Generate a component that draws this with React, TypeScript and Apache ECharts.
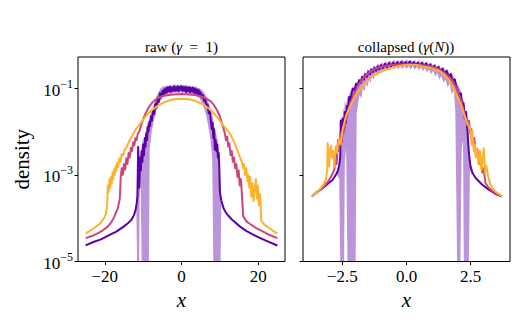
import React, { useEffect, useRef } from "react";
import * as echarts from "echarts";

// Values are [x, log10(density)].
const rawPurple: [number, number][] = [
  [-25, -4.63], [-23, -4.55], [-21, -4.49], [-19, -4.4], [-17, -4.31], [-15, -4.19], [-14, -4.12], [-13, -4.03],
  [-12.4, -3.93], [-12, -3.82], [-11.7, -3.66], [-11.5, -3.5], [-11.3, -2.36], [-11.0, -3.3], [-10.8, -2.6],
  [-10.6, -2.9], [-10.4, -2.45], [-10.2, -2.7], [-10.0, -2.3], [-9.8, -2.55], [-9.6, -2.15], [-9.4, -2.35],
  [-9.2, -2.05], [-9.0, -2.2], [-8.8, -1.9], [-8.6, -2.0], [-8.4, -1.78], [-8.2, -1.88], [-8.0, -1.65],
  [-7.7, -1.75], [-7.4, -1.5], [-7.1, -1.6], [-6.8, -1.36], [-6.5, -1.45], [-6.2, -1.22], [-5.9, -1.32],
  [-5.6, -1.12], [-5.3, -1.22], [-5.0, -1.07], [-4.75, -1.15], [-4.5, -1.03], [-4.25, -1.12], [-4.0, -1.0],
  [-3.75, -1.1], [-3.5, -0.98], [-3.25, -1.08], [-3.0, -0.97], [-2.75, -1.09], [-2.5, -0.99], [-2.25, -1.06],
  [-2.0, -0.96], [-1.75, -1.07], [-1.5, -0.98], [-1.25, -1.05], [-1.0, -0.96], [-0.75, -1.08], [-0.5, -0.97],
  [-0.25, -1.04], [0, -0.96], [0.25, -1.07], [0.5, -0.98], [0.75, -1.06], [1.0, -0.97], [1.25, -1.09],
  [1.5, -0.99], [1.75, -1.07], [2.0, -0.98], [2.25, -1.1], [2.5, -1.0], [2.75, -1.08], [3.0, -0.99],
  [3.25, -1.11], [3.5, -1.01], [3.75, -1.12], [4.0, -1.03], [4.25, -1.14], [4.5, -1.05], [4.75, -1.16],
  [5.0, -1.1], [5.3, -1.22], [5.6, -1.16], [5.9, -1.3], [6.2, -1.25], [6.5, -1.42], [6.8, -1.38], [7.1, -1.58],
  [7.4, -1.55], [7.7, -1.78], [7.9, -1.95], [8.1, -1.8], [8.3, -2.15], [8.5, -1.95], [8.7, -2.42],
  [8.9, -2.2], [9.1, -2.45], [9.3, -2.3], [9.5, -2.6], [9.7, -2.5], [9.85, -2.8], [10.0, -3.35],
  [10.2, -3.52], [10.4, -3.6], [11, -3.78], [11.7, -3.89], [13, -4.02], [15.2, -4.19], [17, -4.3],
  [19.6, -4.42], [22, -4.52], [25, -4.63],
];

// [x, upper log10, lower log10]; a lower of -9 means the band falls to zero (below the axis)
const rawBand: [number, number, number][] = [
  [-11.8, -3.7, -3.7], [-11.6, -3.4, -9], [-11.3, -2.3, -9], [-11.05, -3.2, -9], [-10.9, -3.0, -3.5],
  [-10.7, -2.5, -3.0], [-10.4, -2.35, -9], [-10.1, -2.2, -9], [-9.8, -2.4, -9], [-9.5, -2.05, -9],
  [-9.2, -1.95, -9], [-8.9, -1.8, -9], [-8.5, -1.85, -9], [-8.3, -1.7, -2.4], [-8.0, -1.58, -2.2],
  [-7.7, -1.52, -1.95], [-7.4, -1.4, -1.85], [-7.1, -1.35, -1.7], [-6.8, -1.25, -1.6], [-6.5, -1.2, -1.5],
  [-6.2, -1.12, -1.45], [-5.9, -1.08, -1.35], [-5.6, -1.02, -1.3], [-5.3, -1.0, -1.28], [-5.0, -0.97, -1.2],
  [-4.6, -0.95, -1.2], [-4.2, -0.97, -1.15], [-3.8, -0.93, -1.18], [-3.4, -0.96, -1.12], [-3.0, -0.92, -1.15],
  [-2.6, -0.95, -1.1], [-2.2, -0.93, -1.14], [-1.8, -0.91, -1.09], [-1.4, -0.94, -1.13], [-1.0, -0.92, -1.09],
  [-0.6, -0.95, -1.11], [-0.2, -0.91, -1.08], [0.2, -0.94, -1.13], [0.6, -0.92, -1.09], [1.0, -0.95, -1.14],
  [1.4, -0.93, -1.12], [1.8, -0.96, -1.15], [2.2, -0.94, -1.12], [2.6, -0.97, -1.17], [3.0, -0.95, -1.14],
  [3.4, -0.98, -1.18], [3.8, -0.96, -1.17], [4.2, -1.0, -1.22], [4.6, -1.0, -1.22], [5.0, -1.02, -1.28],
  [5.5, -1.06, -1.38], [6.0, -1.12, -1.5], [6.5, -1.2, -1.65], [7.0, -1.33, -1.9], [7.5, -1.45, -2.15],
  [8.0, -1.6, -2.6], [8.3, -1.75, -9], [8.6, -1.9, -9], [9.0, -2.05, -9], [9.4, -2.2, -9], [9.8, -2.4, -9],
  [10.2, -3.3, -9], [10.4, -3.55, -3.65], [10.6, -3.65, -3.65],
];

const rawPink: [number, number][] = [
  [-25, -4.46], [-23, -4.4], [-21.9, -4.35], [-20.5, -4.28], [-19.2, -4.19], [-18.2, -4.08], [-17.5, -3.96],
  [-16.6, -3.77], [-16.1, -3.55], [-15.85, -3.05], [-15.6, -2.85], [-15.3, -3.0], [-15.0, -2.75],
  [-14.7, -2.88], [-14.4, -2.62], [-14.1, -2.75], [-13.8, -2.5], [-13.5, -2.6], [-13.2, -2.38],
  [-12.9, -2.45], [-12.6, -2.25], [-12.3, -2.32], [-12.0, -2.15], [-11.7, -2.2], [-11.4, -2.05],
  [-11.0, -2.0], [-10.4, -1.82], [-9.7, -1.65], [-9.0, -1.52], [-8.4, -1.42], [-7.5, -1.32], [-6.2, -1.23],
  [-5, -1.19], [-3.5, -1.16], [-2, -1.15], [0, -1.14], [2, -1.15], [3.5, -1.16], [5, -1.19], [6.5, -1.24],
  [7.5, -1.3], [8.3, -1.37], [9.2, -1.5], [10, -1.65], [10.7, -1.85], [11.3, -2.04], [11.6, -2.2],
  [11.9, -2.12], [12.2, -2.35], [12.5, -2.28], [12.8, -2.55], [13.1, -2.45], [13.4, -2.7], [13.7, -2.6],
  [14.0, -2.85], [14.3, -2.75], [14.6, -3.05], [14.9, -2.9], [15.2, -3.25], [15.5, -3.1], [15.75, -3.45],
  [16.1, -3.96], [17, -4.08], [17.8, -4.13], [19.5, -4.23], [21.3, -4.31], [23, -4.39], [25, -4.46],
];

const rawOrange: [number, number][] = [
  [-25, -4.35], [-24, -4.3], [-23, -4.24], [-22, -4.18], [-21, -4.1], [-20.2, -4.0], [-19.7, -3.9],
  [-19.4, -3.7], [-19.2, -3.25], [-19.0, -3.4], [-18.8, -3.1], [-18.6, -3.3], [-18.4, -3.05], [-18.2, -3.2],
  [-18.0, -2.95], [-17.8, -3.1], [-17.6, -2.88], [-17.4, -3.0], [-17.2, -2.8], [-17.0, -2.92],
  [-16.8, -2.72], [-16.5, -2.82], [-16.2, -2.62], [-15.9, -2.7], [-15.6, -2.52], [-15.2, -2.55],
  [-14.8, -2.42], [-14.4, -2.38], [-14.0, -2.3], [-13.5, -2.2], [-13.0, -2.12], [-12.5, -2.04],
  [-12.0, -1.96], [-11, -1.85], [-10, -1.73], [-9, -1.62], [-8, -1.53], [-7, -1.46], [-6, -1.4],
  [-5, -1.35], [-4, -1.31], [-3, -1.28], [-2, -1.26], [-1, -1.25], [0, -1.245], [1, -1.25], [2, -1.26],
  [3, -1.28], [4, -1.31], [5, -1.35], [6, -1.4], [7, -1.46], [8, -1.54], [9, -1.64], [10, -1.75],
  [11, -1.87], [12, -1.98], [12.6, -2.04], [13.5, -2.2], [14.4, -2.39], [15.2, -2.58], [15.8, -2.72],
  [16.1, -2.85], [16.3, -2.75], [16.6, -3.0], [16.9, -2.85], [17.2, -3.15], [17.4, -3.0], [17.7, -3.3],
  [17.9, -3.05], [18.2, -3.5], [18.5, -3.2], [18.8, -3.6], [19.1, -3.3], [19.4, -3.1], [19.7, -3.55],
  [19.9, -3.25], [20.2, -3.7], [20.5, -3.45], [20.8, -4.05], [21.3, -4.12], [22, -4.18], [23, -4.24],
  [24, -4.3], [25, -4.35],
];

const colPurple: [number, number][] = [
  [-3.68, -3.5], [-3.5, -3.4], [-3.27, -3.31], [-3.05, -3.2], [-2.88, -3.12], [-2.75, -3.0], [-2.68, -2.92],
  [-2.62, -2.78], [-2.58, -2.6], [-2.56, -1.75], [-2.52, -2.2], [-2.48, -1.7], [-2.44, -2.0], [-2.4, -1.55],
  [-2.36, -1.8], [-2.32, -1.42], [-2.28, -1.5], [-2.23, -1.2], [-2.18, -1.28], [-2.1, -1.02], [-2.02, -1.05],
  [-1.96, -0.9], [-1.9, -0.95], [-1.84, -0.82], [-1.78, -0.88], [-1.72, -0.74], [-1.66, -0.8], [-1.6, -0.68],
  [-1.54, -0.74], [-1.48, -0.62], [-1.42, -0.68], [-1.36, -0.57], [-1.3, -0.63], [-1.24, -0.53], [-1.18, -0.6],
  [-1.12, -0.5], [-1.06, -0.57], [-1.0, -0.47], [-0.92, -0.54], [-0.84, -0.44], [-0.76, -0.52], [-0.68, -0.42],
  [-0.6, -0.5], [-0.52, -0.41], [-0.44, -0.49], [-0.36, -0.4], [-0.28, -0.48], [-0.2, -0.39], [-0.12, -0.47],
  [-0.04, -0.4], [0.04, -0.47], [0.12, -0.39], [0.2, -0.46], [0.28, -0.4], [0.36, -0.48], [0.44, -0.41],
  [0.52, -0.49], [0.6, -0.42], [0.68, -0.5], [0.76, -0.43], [0.84, -0.52], [0.92, -0.45], [1.0, -0.55],
  [1.08, -0.48], [1.16, -0.58], [1.24, -0.51], [1.32, -0.62], [1.4, -0.55], [1.48, -0.67], [1.56, -0.6],
  [1.64, -0.74], [1.72, -0.68], [1.8, -0.84], [1.88, -0.8], [1.94, -0.97], [2.0, -1.05], [2.06, -1.18],
  [2.12, -1.12], [2.17, -1.45], [2.22, -1.35], [2.27, -1.7], [2.32, -1.55], [2.37, -1.95], [2.43, -2.5],
  [2.49, -2.8], [2.57, -2.96], [2.7, -3.08], [2.95, -3.23], [3.15, -3.32], [3.33, -3.39], [3.5, -3.45],
  [3.72, -3.5],
];

const colBand: [number, number, number][] = [
  [-2.7, -2.95, -3.0], [-2.62, -2.7, -3.1], [-2.58, -2.5, -9], [-2.55, -1.6, -9], [-2.5, -1.8, -9],
  [-2.46, -1.45, -9], [-2.43, -1.55, -9], [-2.4, -1.3, -2.7], [-2.35, -1.4, -2.4], [-2.3, -1.2, -9],
  [-2.25, -1.25, -9], [-2.2, -1.05, -9], [-2.15, -1.1, -9], [-2.1, -0.95, -9], [-2.04, -0.98, -9],
  [-1.98, -0.85, -9], [-1.94, -0.9, -1.6], [-1.88, -0.78, -1.35], [-1.82, -0.84, -1.15], [-1.76, -0.7, -1.25],
  [-1.7, -0.75, -1.0], [-1.64, -0.62, -1.08], [-1.58, -0.68, -0.9], [-1.52, -0.56, -0.98], [-1.46, -0.62, -0.8],
  [-1.4, -0.52, -0.88], [-1.34, -0.58, -0.72], [-1.28, -0.47, -0.8], [-1.2, -0.53, -0.64], [-1.12, -0.43, -0.72],
  [-1.04, -0.5, -0.6], [-0.96, -0.4, -0.66], [-0.88, -0.46, -0.56], [-0.8, -0.38, -0.62], [-0.72, -0.44, -0.53],
  [-0.64, -0.36, -0.6], [-0.56, -0.43, -0.51], [-0.48, -0.35, -0.58], [-0.4, -0.42, -0.5], [-0.32, -0.34, -0.57],
  [-0.24, -0.41, -0.5], [-0.16, -0.34, -0.56], [-0.08, -0.41, -0.49], [0.0, -0.33, -0.56], [0.08, -0.4, -0.49],
  [0.16, -0.34, -0.57], [0.24, -0.41, -0.5], [0.32, -0.35, -0.58], [0.4, -0.42, -0.51], [0.48, -0.35, -0.59],
  [0.56, -0.43, -0.52], [0.64, -0.37, -0.61], [0.72, -0.45, -0.54], [0.8, -0.39, -0.64], [0.88, -0.47, -0.57],
  [0.96, -0.41, -0.68], [1.04, -0.5, -0.6], [1.12, -0.44, -0.74], [1.2, -0.53, -0.66], [1.28, -0.47, -0.8],
  [1.36, -0.57, -0.72], [1.44, -0.51, -0.88], [1.52, -0.62, -0.8], [1.6, -0.56, -0.98], [1.68, -0.68, -0.9],
  [1.76, -0.63, -1.15], [1.84, -0.76, -1.05], [1.9, -0.8, -1.5], [1.97, -0.9, -9], [2.03, -0.95, -9],
  [2.1, -1.05, -9], [2.15, -1.2, -2.4], [2.2, -1.25, -2.2], [2.23, -1.3, -9], [2.28, -1.45, -9],
  [2.33, -1.6, -9], [2.38, -1.85, -9], [2.43, -2.4, -9], [2.47, -2.7, -2.9], [2.55, -2.95, -2.98],
];

const colPink: [number, number][] = [
  [-3.68, -3.5], [-3.4, -3.37], [-3.2, -3.26], [-3.01, -3.12], [-2.9, -3.0], [-2.81, -2.88], [-2.76, -2.55],
  [-2.72, -2.75], [-2.67, -2.2], [-2.63, -2.45], [-2.57, -2.05], [-2.52, -2.25], [-2.47, -1.9], [-2.43, -2.0],
  [-2.39, -1.8], [-2.3, -1.58], [-2.2, -1.38], [-2.05, -1.15], [-1.9, -0.95], [-1.7, -0.78], [-1.45, -0.64],
  [-1.2, -0.55], [-0.9, -0.5], [-0.5, -0.46], [0, -0.45], [0.5, -0.46], [0.9, -0.49], [1.25, -0.56],
  [1.5, -0.66], [1.75, -0.8], [1.95, -1.0], [2.1, -1.25], [2.2, -1.45], [2.3, -1.7], [2.36, -1.84],
  [2.43, -1.75], [2.48, -2.05], [2.53, -1.95], [2.58, -2.3], [2.64, -2.15], [2.7, -2.55], [2.76, -2.4],
  [2.82, -2.75], [2.88, -2.6], [2.95, -2.95], [3.01, -2.85], [3.07, -3.19], [3.2, -3.3], [3.4, -3.4],
  [3.72, -3.5],
];

const colOrange: [number, number][] = [
  [-3.68, -3.5], [-3.55, -3.44], [-3.4, -3.35], [-3.25, -3.24], [-3.14, -3.12], [-3.09, -2.9], [-3.07, -2.27],
  [-3.04, -2.5], [-3.01, -2.81], [-2.98, -2.45], [-2.94, -2.33], [-2.9, -2.6], [-2.86, -2.45], [-2.81, -2.81],
  [-2.76, -2.35], [-2.71, -2.5], [-2.66, -2.25], [-2.62, -2.19], [-2.57, -2.3], [-2.49, -1.96], [-2.42, -1.8],
  [-2.36, -1.65], [-2.23, -1.46], [-2.1, -1.3], [-1.97, -1.15], [-1.84, -1.04], [-1.71, -0.96], [-1.52, -0.84],
  [-1.32, -0.73], [-1.05, -0.64], [-0.8, -0.58], [-0.5, -0.52], [-0.16, -0.48], [0.1, -0.46], [0.4, -0.47],
  [0.61, -0.5], [0.9, -0.53], [1.26, -0.6], [1.45, -0.68], [1.65, -0.81], [1.91, -1.12], [2.1, -1.35],
  [2.23, -1.58], [2.36, -1.81], [2.49, -1.96], [2.53, -2.3], [2.57, -2.0], [2.62, -2.45], [2.66, -2.3],
  [2.7, -2.6], [2.75, -2.4], [2.8, -2.75], [2.86, -2.45], [2.92, -2.9], [2.97, -2.6], [3.01, -2.39],
  [3.06, -2.95], [3.11, -2.8], [3.18, -3.04], [3.27, -3.23], [3.45, -3.38], [3.72, -3.5],
];

const yTicks = [1e-5, 1e-3, 1e-1];
const rawXTicks = [-20, 0, 20];
const colXTicks = [-2.5, 0, 2.5];
const titles = ["raw", "collapsed"];

const PURPLE = "#5c01a6";
const PINK = "#cc4778";
const ORANGE = "#fdb130";
const FONT = "'Liberation Serif', 'DejaVu Serif', serif";
const Y_MIN = 1e-5;
const Y_MAX = 0.52;

const toPts = (arr: [number, number][]) => arr.map(([x, e]) => [x, Math.pow(10, e)]);

const minus = (s: string) => s.replace("-", "\u2212");

function bandSeries(band: [number, number, number][], idx: number) {
  return {
    type: "custom",
    xAxisIndex: idx,
    yAxisIndex: idx,
    silent: true,
    z: 1,
    data: [0],
    renderItem: (_p: any, api: any) => {
      const top = band.map(([x, hi]) => api.coord([x, Math.pow(10, hi)]));
      const bot = band
        .slice()
        .reverse()
        .map(([x, , lo]) => api.coord([x, Math.max(Math.pow(10, lo), Y_MIN)]));
      return {
        type: "polygon",
        shape: { points: top.concat(bot) },
        style: { fill: PURPLE, opacity: 0.42 },
      };
    },
  };
}

function lineSeries(data: [number, number][], color: string, idx: number, z: number) {
  return {
    type: "line",
    xAxisIndex: idx,
    yAxisIndex: idx,
    data: toPts(data),
    symbol: "none",
    showSymbol: false,
    z,
    lineStyle: { color, width: 2, join: "round" },
    itemStyle: { color },
    emphasis: { disabled: true },
    silent: true,
  };
}

export default function App() {
  const ref = useRef<HTMLDivElement>(null);
  useEffect(() => {
    document.body.style.margin = "0";
    if (!ref.current) return;
    const chart = echarts.init(ref.current, undefined, { renderer: "svg" });
    const yLabelRich = {
      b: { fontSize: 17, fontFamily: FONT, color: "#000", verticalAlign: "bottom", lineHeight: 21 },
      s: { fontSize: 12, fontFamily: FONT, color: "#000", verticalAlign: "top", lineHeight: 21 },
    };
    const grids = [
      { left: 78, top: 57, width: 207, height: 204.5 },
      { left: 303, top: 57, width: 207, height: 204.5 },
    ];
    const tickStyle = { show: true, length: 3.5, lineStyle: { color: "#000", width: 1 } };
    const xAxisCommon = {
      type: "value",
      splitLine: { show: false },
      axisLine: { show: false, onZero: false },
      nameLocation: "middle",
      nameGap: 26,
      nameTextStyle: { fontFamily: FONT, fontSize: 21, fontStyle: "italic", color: "#000" },
    };
    const yAxisCommon = {
      type: "log",
      logBase: 10,
      min: Y_MIN,
      max: Y_MAX,
      splitLine: { show: false },
      minorTick: { show: false },
      axisLine: { show: false, onZero: false },
      axisTick: { ...tickStyle, customValues: yTicks },
    };
    const xLabel = { margin: 6, fontFamily: FONT, fontSize: 17, color: "#000" };
    chart.setOption({
      animation: false,
      grid: grids.map((g) => ({ ...g, show: true, borderColor: "#000", borderWidth: 1, backgroundColor: "transparent" })),
      xAxis: [
        {
          ...xAxisCommon,
          gridIndex: 0,
          min: -27,
          max: 27,
          name: "x",
          axisTick: { ...tickStyle, customValues: rawXTicks },
          axisLabel: { ...xLabel, customValues: rawXTicks, formatter: (v: number) => minus(String(v)) },
        },
        {
          ...xAxisCommon,
          gridIndex: 1,
          min: -4.03,
          max: 4.03,
          name: "x",
          axisTick: { ...tickStyle, customValues: colXTicks },
          axisLabel: { ...xLabel, customValues: colXTicks, formatter: (v: number) => minus(v.toFixed(1)) },
        },
      ],
      yAxis: [
        {
          ...yAxisCommon,
          gridIndex: 0,
          name: "density",
          nameLocation: "middle",
          nameGap: 46,
          nameTextStyle: { fontFamily: FONT, fontSize: 21, color: "#000" },
          axisLabel: {
            customValues: yTicks,
            margin: 5,
            formatter: (v: number) => `{b|10}{s|\u2212${Math.round(-Math.log10(v))}}`,
            rich: yLabelRich,
          },
        },
        {
          ...yAxisCommon,
          gridIndex: 1,
          axisLabel: { show: false },
        },
      ],
      graphic: [
        {
          type: "text",
          x: 181.5,
          y: 47,
          style: {
            text: `{n|${titles[0]} (}{i|γ}{n|  =  1)}`,
            align: "center",
            verticalAlign: "middle",
            rich: {
              n: { fontFamily: FONT, fontSize: 15, fill: "#000" },
              i: { fontFamily: FONT, fontSize: 15, fontStyle: "italic", fill: "#000" },
            },
          },
        },
        {
          type: "text",
          x: 406,
          y: 47,
          style: {
            text: `{n|${titles[1]} (}{i|γ}{n|(}{i|N}{n|))}`,
            align: "center",
            verticalAlign: "middle",
            rich: {
              n: { fontFamily: FONT, fontSize: 15, fill: "#000" },
              i: { fontFamily: FONT, fontSize: 15, fontStyle: "italic", fill: "#000" },
            },
          },
        },
      ],
      series: [
        bandSeries(rawBand, 0),
        lineSeries(rawPurple, PURPLE, 0, 2),
        lineSeries(rawPink, PINK, 0, 3),
        lineSeries(rawOrange, ORANGE, 0, 4),
        bandSeries(colBand, 1),
        lineSeries(colPurple, PURPLE, 1, 2),
        lineSeries(colPink, PINK, 1, 3),
        lineSeries(colOrange, ORANGE, 1, 4),
      ],
    });
    return () => chart.dispose();
  }, []);
  return <div ref={ref} style={{ width: 523, height: 323 }} />;
}
